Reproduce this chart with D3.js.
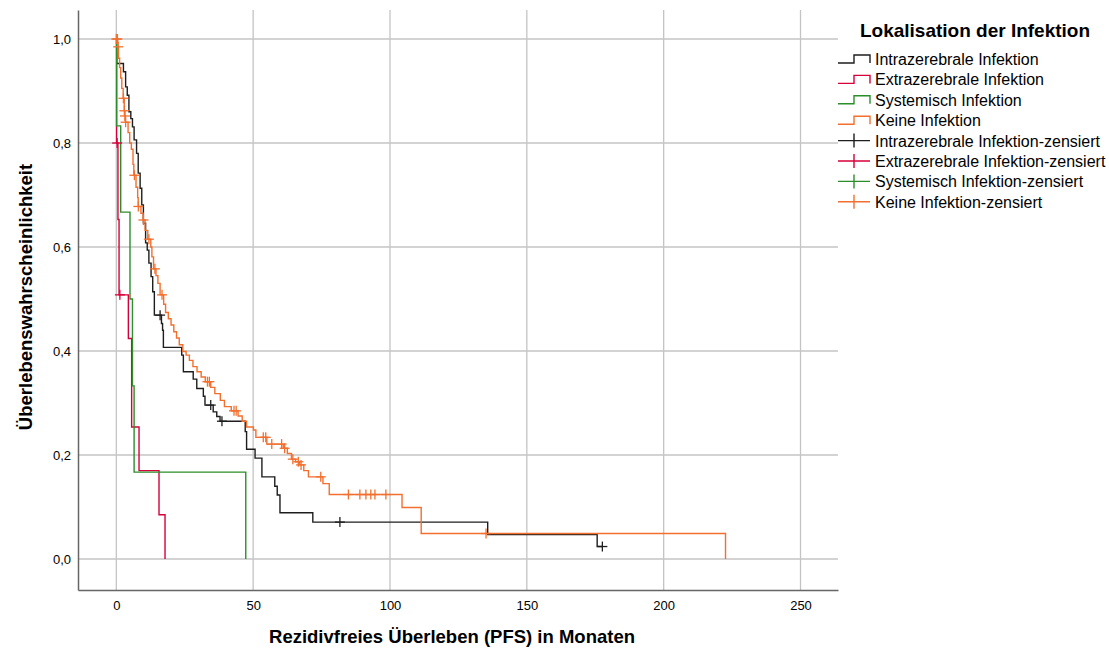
<!DOCTYPE html>
<html>
<head>
<meta charset="utf-8">
<script src="https://cdn.jsdelivr.net/npm/d3@7"></script>
<style>
  body { margin: 0; background: #fff; }
  text { font-family: "Liberation Sans", Arial, Helvetica, sans-serif; }
</style>
</head>
<body>
<script>
// Kaplan-Meier curves, PFS by infection site

var width = 1109;
var height = 648;

// x ticks (months) and y ticks (probability)
var xTicks = [0, 50, 100, 150, 200, 250];
var yTicks = [0, 0.2, 0.4, 0.6, 0.8, 1.0];

var groupNames = ["Intrazerebrale Infektion", "Extrazerebrale Infektion", "Systemisch Infektion", "Keine Infektion"];
var groupColors = ["#1e1e1e", "#d8003a", "#2b8e2b", "#f36f2e"];

// steps: [month, survival after the event]
var intraSteps = [
  [0.15, 0.953], [2.6, 0.937], [3.4, 0.908], [4.0, 0.892], [4.6, 0.860], [5.3, 0.847],
  [5.9, 0.831], [6.5, 0.806], [7.4, 0.780], [8.0, 0.742], [8.7, 0.713], [9.3, 0.681],
  [9.9, 0.646], [10.7, 0.608], [11.3, 0.594], [11.9, 0.569], [12.7, 0.543], [13.3, 0.514],
  [13.9, 0.469], [16.5, 0.453], [16.9, 0.440], [17.2, 0.407], [23.9, 0.392], [24.5, 0.360],
  [28.1, 0.346], [29.4, 0.328], [31.8, 0.313], [32.4, 0.296], [35.4, 0.283], [36.7, 0.274],
  [37.9, 0.265], [47.1, 0.245], [47.6, 0.211], [50.7, 0.194], [53.2, 0.158], [57.9, 0.140],
  [58.8, 0.123], [59.8, 0.089], [71.8, 0.071], [135.7, 0.047], [175.7, 0.024]
];
var intraCensored = [16.0, 34.5, 38.6, 81.7, 177.6];

var extraSteps = [
  [0.1, 0.800], [0.6, 0.653], [1.0, 0.508], [4.4, 0.424], [5.6, 0.254], [8.3, 0.170],
  [15.6, 0.085], [17.8, 0.0]
];
var extraCensored = [0.3, 1.3];

var systSteps = [
  [0.1, 0.833], [1.6, 0.667], [5.0, 0.500], [5.9, 0.333], [6.5, 0.167], [47.3, 0.0]
];
var systCensored = [];

var keineSteps = [
  [0.5, 0.985], [0.8, 0.963], [1.2, 0.945], [1.6, 0.925], [2.0, 0.905], [2.5, 0.886],
  [2.9, 0.862], [3.05, 0.852], [3.3, 0.840], [4.3, 0.820], [4.9, 0.800], [5.5, 0.788],
  [6.1, 0.759], [6.4, 0.738], [7.2, 0.715], [7.8, 0.695], [8.0, 0.678], [9.0, 0.665],
  [9.8, 0.652], [10.5, 0.632], [11.5, 0.615], [12.6, 0.600], [13.0, 0.581], [13.6, 0.558],
  [14.5, 0.545], [15.2, 0.530], [16.0, 0.508], [17.3, 0.490], [18.0, 0.474], [19.0, 0.462],
  [20.0, 0.450], [21.0, 0.437], [22.0, 0.425], [23.0, 0.412], [24.3, 0.399], [25.5, 0.392],
  [26.7, 0.382], [28.0, 0.370], [29.5, 0.360], [31.0, 0.350], [32.5, 0.341], [34.5, 0.330],
  [36.0, 0.318], [38.0, 0.305], [39.5, 0.293], [42.0, 0.285], [44.5, 0.275], [46.0, 0.265],
  [47.6, 0.254], [50.1, 0.248], [51.0, 0.234], [55.0, 0.221], [61.0, 0.213], [62.5, 0.203],
  [64.0, 0.192], [65.5, 0.187], [67.0, 0.181], [68.5, 0.170], [70.2, 0.158], [75.5, 0.145],
  [77.8, 0.124], [104.4, 0.099], [111.4, 0.049], [222.6, 0.0]
];
var keineCensored = [0, 0.4, 0.7, 2.6, 2.95, 3.15, 3.4, 6.6, 8.05, 9.9, 11.9, 14.1, 16.7,
  33.3, 34.0, 43.0, 43.8, 53.7, 54.6, 56.8, 60.4, 61.5, 64.5, 66.5, 67.5, 74.7,
  84.8, 89.0, 91.2, 93.0, 94.5, 98.5, 135.1];

var allSteps = [intraSteps, extraSteps, systSteps, keineSteps];
var allCensored = [intraCensored, extraCensored, systCensored, keineCensored];

var svg = d3.select("body").append("svg")
  .attr("width", width)
  .attr("height", height);

var x = d3.scaleLinear().domain([-14, 263.7]).range([78, 838]);
var y = d3.scaleLinear().domain([-0.0596, 1.0558]).range([590, 10]);

// grid
svg.selectAll(".vgrid").data(xTicks).enter().append("line")
  .attr("x1", function(d) { return x(d); })
  .attr("x2", function(d) { return x(d); })
  .attr("y1", y.range()[1])
  .attr("y2", y.range()[0])
  .attr("stroke", "#c4c4c4")
  .attr("stroke-width", 1.3);
svg.selectAll(".hgrid").data(yTicks).enter().append("line")
  .attr("x1", x.range()[0])
  .attr("x2", x.range()[1])
  .attr("y1", function(d) { return y(d); })
  .attr("y2", function(d) { return y(d); })
  .attr("stroke", "#c4c4c4")
  .attr("stroke-width", 1.3);

// axes, no tick marks
var xAxis = svg.append("g")
  .attr("transform", "translate(0,590)")
  .call(d3.axisBottom(x).tickValues(xTicks).tickSize(0).tickPadding(11).tickFormat(d3.format("d")));
var yAxis = svg.append("g")
  .attr("transform", "translate(78,0)")
  .call(d3.axisLeft(y).tickValues(yTicks).tickSize(0).tickPadding(7)
    .tickFormat(function(d) { return d3.format(".1f")(d).replace(".", ","); }));
[xAxis, yAxis].forEach(function(a) {
  a.select(".domain").attr("stroke", "#666").attr("stroke-width", 1.5);
  a.selectAll("text").attr("font-size", 13).attr("fill", "#000")
    .attr("font-family", "'Liberation Sans', Arial, sans-serif");
});

svg.append("text")
  .attr("x", 452).attr("y", 643)
  .attr("text-anchor", "middle")
  .attr("font-size", 18.5).attr("font-weight", "bold")
  .text("Rezidivfreies Überleben (PFS) in Monaten");
svg.append("text")
  .attr("transform", "translate(32,297) rotate(-90)")
  .attr("text-anchor", "middle")
  .attr("font-size", 18.5).attr("font-weight", "bold")
  .text("Überlebenswahrscheinlichkeit");

// survival at time t from the step list
var survAt = function(steps, t) {
  var s = 1;
  steps.forEach(function(p) { if (p[0] <= t) s = p[1]; });
  return s;
};

var line = d3.line()
  .x(function(d) { return x(d[0]); })
  .y(function(d) { return y(d[1]); })
  .curve(d3.curveStepAfter);

allSteps.forEach(function(steps, i) {
  var pts = [[0, 1]].concat(steps);
  var cens = allCensored[i];
  var lastT = steps[steps.length - 1][0];
  if (cens.length && cens[cens.length - 1] > lastT) {
    pts.push([cens[cens.length - 1], survAt(steps, cens[cens.length - 1])]);
  }
  svg.append("path")
    .attr("d", line(pts))
    .attr("fill", "none")
    .attr("stroke", groupColors[i])
    .attr("stroke-width", 1.4);
});

// censor crosses
allCensored.forEach(function(cens, i) {
  var g = svg.append("g").attr("stroke", groupColors[i]).attr("stroke-width", 1.3);
  cens.forEach(function(t) {
    var cx = x(t), cy = y(survAt(allSteps[i], t));
    g.append("line").attr("x1", cx - 5).attr("x2", cx + 5).attr("y1", cy).attr("y2", cy);
    g.append("line").attr("x1", cx).attr("x2", cx).attr("y1", cy - 5).attr("y2", cy + 5);
  });
});

// legend
svg.append("text")
  .attr("x", 975).attr("y", 37)
  .attr("text-anchor", "middle")
  .attr("font-size", 19).attr("font-weight", "bold")
  .text("Lokalisation der Infektion");

var legendItems = groupNames.map(function(n, i) { return { name: n, color: groupColors[i], cross: false }; })
  .concat(groupNames.map(function(n, i) { return { name: n + "-zensiert", color: groupColors[i], cross: true }; }));

var legend = svg.selectAll(".leg").data(legendItems).enter().append("g")
  .attr("transform", function(d, i) { return "translate(838," + (59 + i * 20.4) + ")"; });
legend.append("path")
  .attr("d", function(d) {
    if (d.cross) return "M0,0H32M16,-7V7";
    return "M0,4H16V-4H32V4";
  })
  .attr("fill", "none")
  .attr("stroke", function(d) { return d.color; })
  .attr("stroke-width", 1.4);
legend.append("text")
  .attr("x", 37).attr("y", 6)
  .attr("font-size", 16)
  .text(function(d) { return d.name; });
</script>
</body>
</html>
